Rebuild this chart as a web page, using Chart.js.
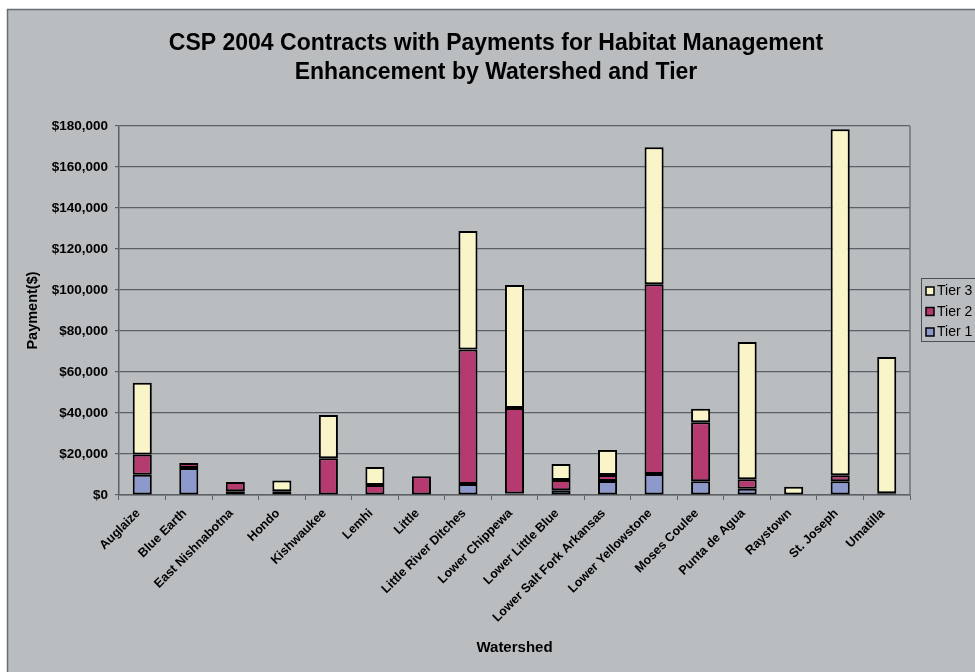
<!DOCTYPE html>
<html>
<head>
<meta charset="utf-8">
<script src="https://cdn.jsdelivr.net/npm/chart.js@4.4.1/dist/chart.umd.min.js"></script>
<style>
  html, body { margin: 0; padding: 0; background: #ffffff; }
  #wrap { width: 975px; height: 672px; }
</style>
</head>
<body>
<div id="wrap"><canvas id="cspChart" width="975" height="672"></canvas></div>
<script>
const watersheds = ['Auglaize', 'Blue Earth', 'East Nishnabotna', 'Hondo', 'Kishwaukee', 'Lemhi', 'Little',
    'Little River Ditches', 'Lower Chippewa', 'Lower Little Blue', 'Lower Salt Fork Arkansas',
    'Lower Yellowstone', 'Moses Coulee', 'Punta de Agua', 'Raystown', 'St. Joseph', 'Umatilla'];
const tier1 = [9900, 13200, 1800, 1800, null, null, null, 5400, 700, 2300, 6800, 10200, 6700, 3100, null, 6700, null];
const tier2 = [9800, 2400, 4500, null, 17900, 4900, 9100, 65600, 41700, 5000, 2950, 92600, 28800, 4550, null, 2900, 800];
const tier3 = [35100, null, null, 5300, 21100, 8800, null, 57800, 60000, 7800, 12250, 66800, 6600, 67000, 4000, 168800, 66500];
const yTicks = [0, 20000, 40000, 60000, 80000, 100000, 120000, 140000, 160000, 180000];

const bgGray = '#b9bdc0';
const gridColor = '#5c6165';
const fontFamily = 'Arial, "Liberation Sans", Helvetica, sans-serif';

// fond gris du graphique + cadre
const chartBackground = {
    id: 'chartBackground',
    beforeDraw(chart) {
        const c = chart.ctx;
        c.save();
        c.fillStyle = '#ffffff';
        c.fillRect(0, 0, chart.width, chart.height);
        c.fillStyle = bgGray;
        c.fillRect(7, 9, chart.width - 7, chart.height - 9);
        c.strokeStyle = '#6a6e71';
        c.lineWidth = 1.5;
        c.beginPath();
        c.moveTo(7.5, chart.height);
        c.lineTo(7.5, 9.5);
        c.lineTo(chart.width, 9.5);
        c.stroke();
        c.restore();
    },
    afterDraw(chart) {
        const c = chart.ctx;
        const a = chart.chartArea;
        c.save();
        // bord droit de la zone de tracé
        c.strokeStyle = '#707579';
        c.lineWidth = 1.5;
        c.beginPath();
        c.moveTo(a.right, a.top);
        c.lineTo(a.right, a.bottom);
        c.stroke();

        // légende façon Excel (Tier 3 en haut)
        const lx = 921, ly = 278;
        c.fillStyle = bgGray;
        c.fillRect(lx, ly, 60, 64);
        c.strokeStyle = '#4d5154';
        c.lineWidth = 1;
        c.strokeRect(lx + 0.5, ly + 0.5, 60, 63);
        const items = chart.data.datasets.slice().reverse();
        c.font = '14px ' + fontFamily;
        c.textBaseline = 'middle';
        items.forEach((ds, i) => {
            const y = ly + 13 + i * 20.5;
            c.fillStyle = ds.backgroundColor;
            c.fillRect(926, y - 4, 8, 8);
            c.strokeStyle = '#000000';
            c.lineWidth = 1.5;
            c.strokeRect(926, y - 4, 8, 8);
            c.fillStyle = '#000000';
            c.fillText(ds.label, 937, y + 0.5);
        });
        c.restore();
    }
};

const ctx = document.getElementById('cspChart').getContext('2d');
const cspChart = new Chart(ctx, {
    type: 'bar',
    data: {
        labels: watersheds,
        datasets: [
            {
                label: 'Tier 1',
                data: tier1,
                backgroundColor: '#8d99cb',
                borderColor: '#000000',
                borderWidth: 2,
                borderSkipped: false
            },
            {
                label: 'Tier 2',
                data: tier2,
                backgroundColor: '#b43a6f',
                borderColor: '#000000',
                borderWidth: 2,
                borderSkipped: false
            },
            {
                label: 'Tier 3',
                data: tier3,
                backgroundColor: '#faf5c8',
                borderColor: '#000000',
                borderWidth: 2,
                borderSkipped: false
            }
        ]
    },
    options: {
        responsive: false,
        animation: false,
        devicePixelRatio: 1,
        layout: {
            padding: { left: 17, right: 0, top: 0, bottom: 0 }
        },
        datasets: {
            bar: {
                categoryPercentage: 1,
                barPercentage: 0.41
            }
        },
        plugins: {
            legend: { display: false },
            tooltip: { enabled: false },
            title: {
                display: true,
                text: ['CSP 2004 Contracts with Payments for Habitat Management', 'Enhancement by Watershed and Tier'],
                color: '#000000',
                font: { family: fontFamily, size: 23, weight: 'bold', lineHeight: 1.27 },
                padding: { top: 29, bottom: 38.6 }
            }
        },
        scales: {
            x: {
                stacked: true,
                offset: true,
                afterFit: function(scale) {
                    scale.height = 177;
                },
                grid: {
                    display: true,
                    offset: true,
                    drawOnChartArea: false,
                    tickLength: 5,
                    color: gridColor
                },
                border: { color: gridColor, width: 1.5 },
                ticks: {
                    color: '#000000',
                    font: { family: fontFamily, size: 12.5, weight: 'bold' },
                    maxRotation: 45,
                    minRotation: 45,
                    autoSkip: false,
                    padding: 6,
                    labelOffset: -4
                },
                title: {
                    display: true,
                    text: 'Watershed',
                    color: '#000000',
                    font: { family: fontFamily, size: 15, weight: 'bold' },
                    padding: { top: 0, bottom: 15 }
                }
            },
            y: {
                stacked: true,
                min: 0,
                max: 180000,
                afterFit: function(scale) {
                    scale.width = 102;
                },
                afterBuildTicks: function(scale) {
                    scale.ticks = yTicks.map(v => ({ value: v }));
                },
                grid: {
                    color: gridColor,
                    tickLength: 4,
                    lineWidth: 1.2
                },
                border: { color: gridColor, width: 1.5 },
                ticks: {
                    color: '#000000',
                    font: { family: fontFamily, size: 13.5, weight: 'bold' },
                    padding: 7,
                    callback: function(value) {
                        return '$' + value.toLocaleString('en-US');
                    }
                },
                title: {
                    display: true,
                    text: 'Payment($)',
                    color: '#000000',
                    font: { family: fontFamily, size: 14.5, weight: 'bold' },
                    padding: { top: 7, bottom: 0 }
                }
            },
            // axe vide à droite : réserve la place de la légende
            legendSpace: {
                type: 'linear',
                position: 'right',
                display: true,
                afterFit: function(scale) {
                    scale.width = 65;
                },
                grid: { display: false },
                border: { display: false },
                ticks: { display: false }
            }
        }
    },
    plugins: [chartBackground]
});
</script>
</body>
</html>
